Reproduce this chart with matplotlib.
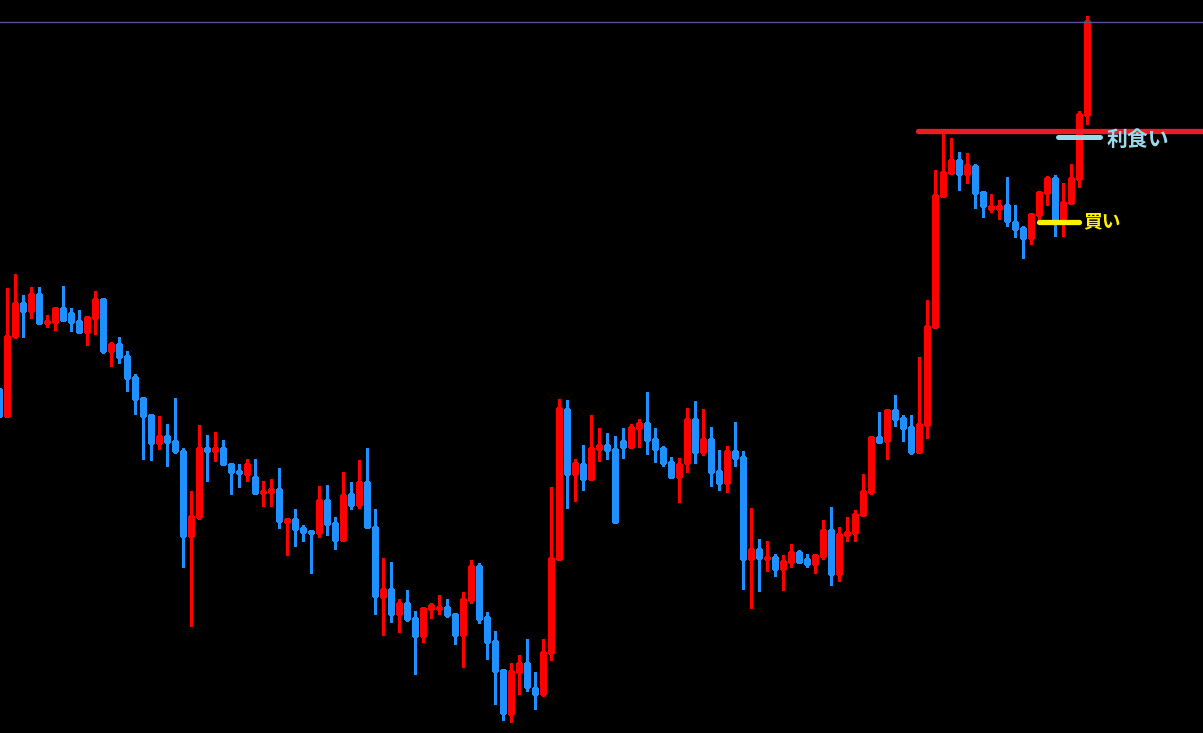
import numpy as np
import matplotlib
matplotlib.use("Agg")
import matplotlib.pyplot as plt

# OHLC (arbitrary price units), first bar is cut by the left edge
opens = [344, 317, 397, 430, 422, 439, 410, 411, 425, 420, 412, 401, 415, 434, 382, 389, 377, 356, 335, 318,
         290, 297, 292, 282, 197, 216, 285, 282, 285, 269, 261, 259, 256, 240, 241, 244, 211, 214, 205, 202,
         200, 233, 210, 193, 239, 228, 251, 206, 136, 144, 119, 130, 115, 97, 124, 124, 126, 119, 98, 133,
         167, 116, 92, 63, 19, 61, 70, 45, 39, 80, 174, 324, 259, 269, 254, 284, 288, 284, 292, 286,
         305, 310, 294, 285, 271, 256, 270, 314, 281, 294, 262, 250, 282, 276, 174, 184, 174, 176, 164, 171,
         181, 174, 169, 177, 203, 159, 198, 200, 218, 241, 296, 292, 323, 315, 306, 281, 308, 406, 537, 560,
         573, 559, 567, 541, 524, 524, 528, 511, 505, 495, 518, 540, 555, 514, 530, 554, 618]
highs = [344, 445, 459, 438, 446, 446, 418, 425, 447, 425, 423, 416, 442, 434, 391, 396, 382, 359, 335, 318,
         317, 309, 335, 285, 242, 308, 298, 301, 293, 270, 269, 274, 274, 252, 254, 265, 215, 224, 208, 203,
         247, 248, 216, 261, 251, 273, 285, 224, 175, 171, 134, 143, 122, 125, 130, 138, 134, 119, 141, 173,
         170, 121, 102, 64, 70, 78, 94, 61, 94, 246, 334, 333, 274, 288, 318, 305, 300, 297, 305, 309,
         314, 341, 305, 287, 276, 275, 325, 332, 324, 306, 283, 287, 311, 282, 225, 194, 192, 179, 178, 189,
         183, 179, 178, 213, 226, 206, 216, 223, 259, 297, 321, 323, 338, 318, 318, 376, 433, 563, 600, 595,
         581, 580, 569, 542, 539, 533, 556, 528, 507, 519, 541, 557, 558, 550, 569, 622, 717]
lows = [317, 316, 395, 396, 415, 410, 406, 403, 413, 402, 401, 388, 399, 380, 367, 370, 342, 319, 274, 273,
        284, 267, 280, 166, 107, 214, 252, 272, 269, 239, 246, 252, 240, 227, 227, 205, 178, 187, 192, 160,
        196, 198, 184, 192, 224, 225, 206, 119, 98, 111, 101, 112, 59, 91, 115, 119, 116, 89, 66, 130,
        110, 74, 29, 13, 11, 39, 42, 24, 37, 73, 174, 225, 232, 243, 254, 272, 274, 211, 275, 286,
        286, 279, 271, 267, 256, 231, 261, 270, 278, 247, 243, 241, 267, 144, 125, 142, 162, 157, 143, 166,
        170, 166, 160, 174, 148, 152, 192, 192, 218, 239, 290, 274, 307, 292, 279, 281, 295, 406, 536, 560,
        543, 550, 525, 516, 521, 514, 507, 496, 475, 489, 514, 528, 497, 497, 530, 546, 609]
closes = [317, 397, 430, 422, 439, 410, 412, 425, 413, 411, 401, 416, 434, 382, 389, 376, 355, 334, 317, 290,
          297, 291, 282, 197, 217, 285, 282, 285, 269, 261, 260, 269, 240, 242, 244, 212, 214, 204, 201, 200,
          233, 209, 193, 238, 228, 251, 206, 137, 144, 119, 130, 114, 97, 125, 128, 126, 118, 98, 134, 167,
          114, 91, 62, 20, 62, 70, 46, 39, 81, 175, 325, 259, 270, 254, 285, 288, 283, 211, 286, 306,
          310, 293, 284, 270, 256, 269, 314, 281, 294, 261, 250, 282, 275, 174, 184, 175, 176, 164, 172, 181,
          171, 169, 178, 203, 159, 199, 201, 219, 242, 296, 291, 323, 314, 305, 281, 309, 407, 538, 561, 573,
          559, 568, 540, 527, 527, 527, 512, 504, 495, 519, 541, 555, 514, 531, 555, 619, 712]

top_line = 711.5       # thin line at the top of the window
tp_level = 602.5       # red horizontal level
tp_mark = 596.5        # light blue marker for 利食い
buy_mark = 511.5       # yellow marker for 買い

UP = "#ff0000"
DOWN_FILL = "#3366ff"
DOWN_EDGE = "#1e90ff"

plt.rcParams['font.family'] = ['Noto Sans CJK JP', 'DejaVu Sans']

fig = plt.figure(figsize=(12.03, 7.33), dpi=100)
fig.patch.set_facecolor("black")
ax = fig.add_axes([0, 0, 1, 1])
ax.set_facecolor("black")

x = np.arange(-1, len(opens) - 1)
px = 1 / 8  # one pixel in x units, bars are 8 px apart

for i in range(len(opens)):
    o, h, l, c = opens[i], highs[i], lows[i], closes[i]
    up = c >= o
    edge = UP if up else DOWN_EDGE
    fill = UP if up else DOWN_FILL
    ax.vlines(x[i], l, h, color=edge, linewidth=0.9, antialiased=False)
    bottom = min(o, c)
    height = max(abs(c - o), 2)
    ax.bar(x[i], height, bottom=bottom, width=4 * px, color=fill, edgecolor=edge,
           linewidth=1.0, antialiased=False)

ax.axhline(top_line, color="#5a5090", linewidth=1.0)

# annotations drawn on top of the chart
ax.plot([113.9, 150], [tp_level, tp_level], color="#ed1c24", linewidth=3.8, solid_capstyle="round")
ax.plot([131.4, 136.7], [tp_mark, tp_mark], color="#99d9ea", linewidth=3.6, solid_capstyle="round")
ax.text(137.5, tp_mark - 3, "利食い", color="#99d9ea", fontsize=15, fontweight="bold",
        ha="left", va="center")
ax.plot([129.1, 134.1], [buy_mark, buy_mark], color="#fff200", linewidth=3.8, solid_capstyle="round")
ax.text(134.6, buy_mark, "買い", color="#fff200", fontsize=13.5, fontweight="bold",
        ha="left", va="center")

ax.set_xlim(-6.5 * px, (1203 - 6.5) * px)
ax.set_ylim(0, 733)
ax.axis("off")

fig.savefig("out.png", dpi=100, facecolor="black")
